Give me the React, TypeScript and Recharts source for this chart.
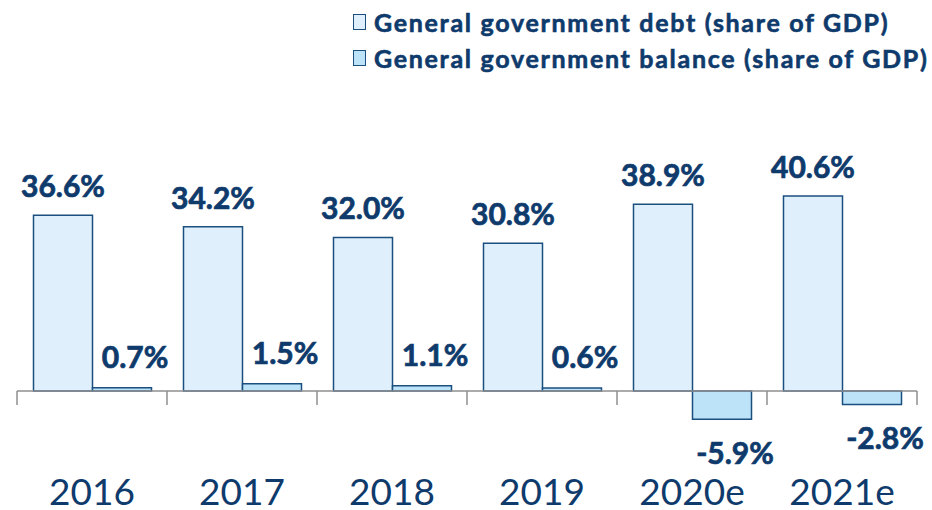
import React from 'react';
import { BarChart, Bar, XAxis, YAxis, ReferenceLine, LabelList, Legend } from 'recharts';

const categories = ['2016', '2017', '2018', '2019', '2020e', '2021e'];
const debtValues = [36.6, 34.2, 32.0, 30.8, 38.9, 40.6];
const balanceValues = [0.7, 1.5, 1.1, 0.6, -5.9, -2.8];
const seriesNames = ['General government debt (share of GDP)', 'General government balance (share of GDP)'];

const data = categories.map((c, i) => ({ year: c, debt: debtValues[i], balance: balanceValues[i] }));

const NAVY = '#0e3a6c';
const STROKE = '#1b4f7f';
const DEBT_FILL = '#dff0fc';
const BAL_FILL = '#bde3f8';
const FONT = 'Lato, "Open Sans", sans-serif';

const fmt = (v: number) => `${v.toFixed(1)}%`;

const boldText = { stroke: NAVY, strokeWidth: 0.7, paintOrder: 'stroke' } as any;

const DebtLabel = (props: any) => {
  const { x, y, width, height, value } = props;
  const top = Math.min(y, y + height);
  return (
    <text x={x + width / 2} y={top - 18} textAnchor="middle" fontSize={30} fontWeight={700} fill={NAVY} fontFamily={FONT} {...boldText}>
      {fmt(value)}
    </text>
  );
};

const BalanceLabel = (props: any) => {
  const { x, y, width, height, value } = props;
  const top = Math.min(y, y + height);
  const bottom = Math.max(y, y + height);
  const ty = value >= 0 ? top - 20 : bottom + 45;
  return (
    <text x={x + width / 2 + 13} y={ty} textAnchor="middle" fontSize={30} fontWeight={700} fill={NAVY} fontFamily={FONT} {...boldText}>
      {fmt(value)}
    </text>
  );
};

const YearTick = (props: any) => {
  const { x, y, payload } = props;
  return (
    <text x={x} y={y + 58} textAnchor="middle" fontSize={37} fill={NAVY} fontFamily={FONT}>
      {payload.value}
    </text>
  );
};

const ZeroAxis = (props: any) => {
  const { x1, y1, x2 } = props;
  const n = categories.length;
  const ticks = [];
  for (let i = 0; i <= n; i++) {
    const tx = x1 + ((x2 - x1) * i) / n;
    ticks.push(<line key={i} x1={tx} x2={tx} y1={y1} y2={y1 + 14} stroke="#8f8f8f" strokeWidth={1.5} />);
  }
  return (
    <g>
      <line x1={x1} x2={x2} y1={y1} y2={y1} stroke="#8f8f8f" strokeWidth={1.5} />
      {ticks}
    </g>
  );
};

const renderLegend = () => {
  const fills = [DEBT_FILL, BAL_FILL];
  return (
    <div style={{ fontFamily: FONT }}>
      {seriesNames.map((name, i) => (
        <div key={name} style={{ display: 'flex', alignItems: 'center', height: 36 }}>
          <span
            style={{
              display: 'inline-block',
              width: 11,
              height: 14,
              border: `1.5px solid ${STROKE}`,
              background: fills[i],
              marginRight: 8,
            }}
          />
          <span
            style={{
              fontSize: 25,
              fontWeight: 700,
              color: NAVY,
              whiteSpace: 'nowrap',
              letterSpacing: 1.7,
              WebkitTextStroke: `0.6px ${NAVY}`,
            } as any}
          >
            {name}
          </span>
        </div>
      ))}
    </div>
  );
};

export default function App() {
  return (
    <div style={{ position: 'absolute', left: 0, top: 0, width: 932, height: 510, background: '#fff' }}>
      <BarChart
        width={932}
        height={510}
        data={data}
        margin={{ top: 175, right: 15, bottom: 0, left: 17 }}
        barCategoryGap="11%"
        barGap={0}
      >
        <XAxis dataKey="year" axisLine={false} tickLine={false} height={71} tick={<YearTick />} interval={0} />
        <YAxis hide domain={[-10, 45]} />
        <ReferenceLine y={0} shape={<ZeroAxis />} />
        <Legend
          layout="vertical"
          align="center"
          verticalAlign="middle"
          wrapperStyle={{ top: 4, left: 353, width: 579 }}
          content={renderLegend}
        />
        <Bar dataKey="debt" name={seriesNames[0]} fill={DEBT_FILL} stroke={STROKE} strokeWidth={1.5} isAnimationActive={false}>
          <LabelList dataKey="debt" content={<DebtLabel />} />
        </Bar>
        <Bar dataKey="balance" name={seriesNames[1]} fill={BAL_FILL} stroke={STROKE} strokeWidth={1.5} isAnimationActive={false}>
          <LabelList dataKey="balance" content={<BalanceLabel />} />
        </Bar>
      </BarChart>
    </div>
  );
}
